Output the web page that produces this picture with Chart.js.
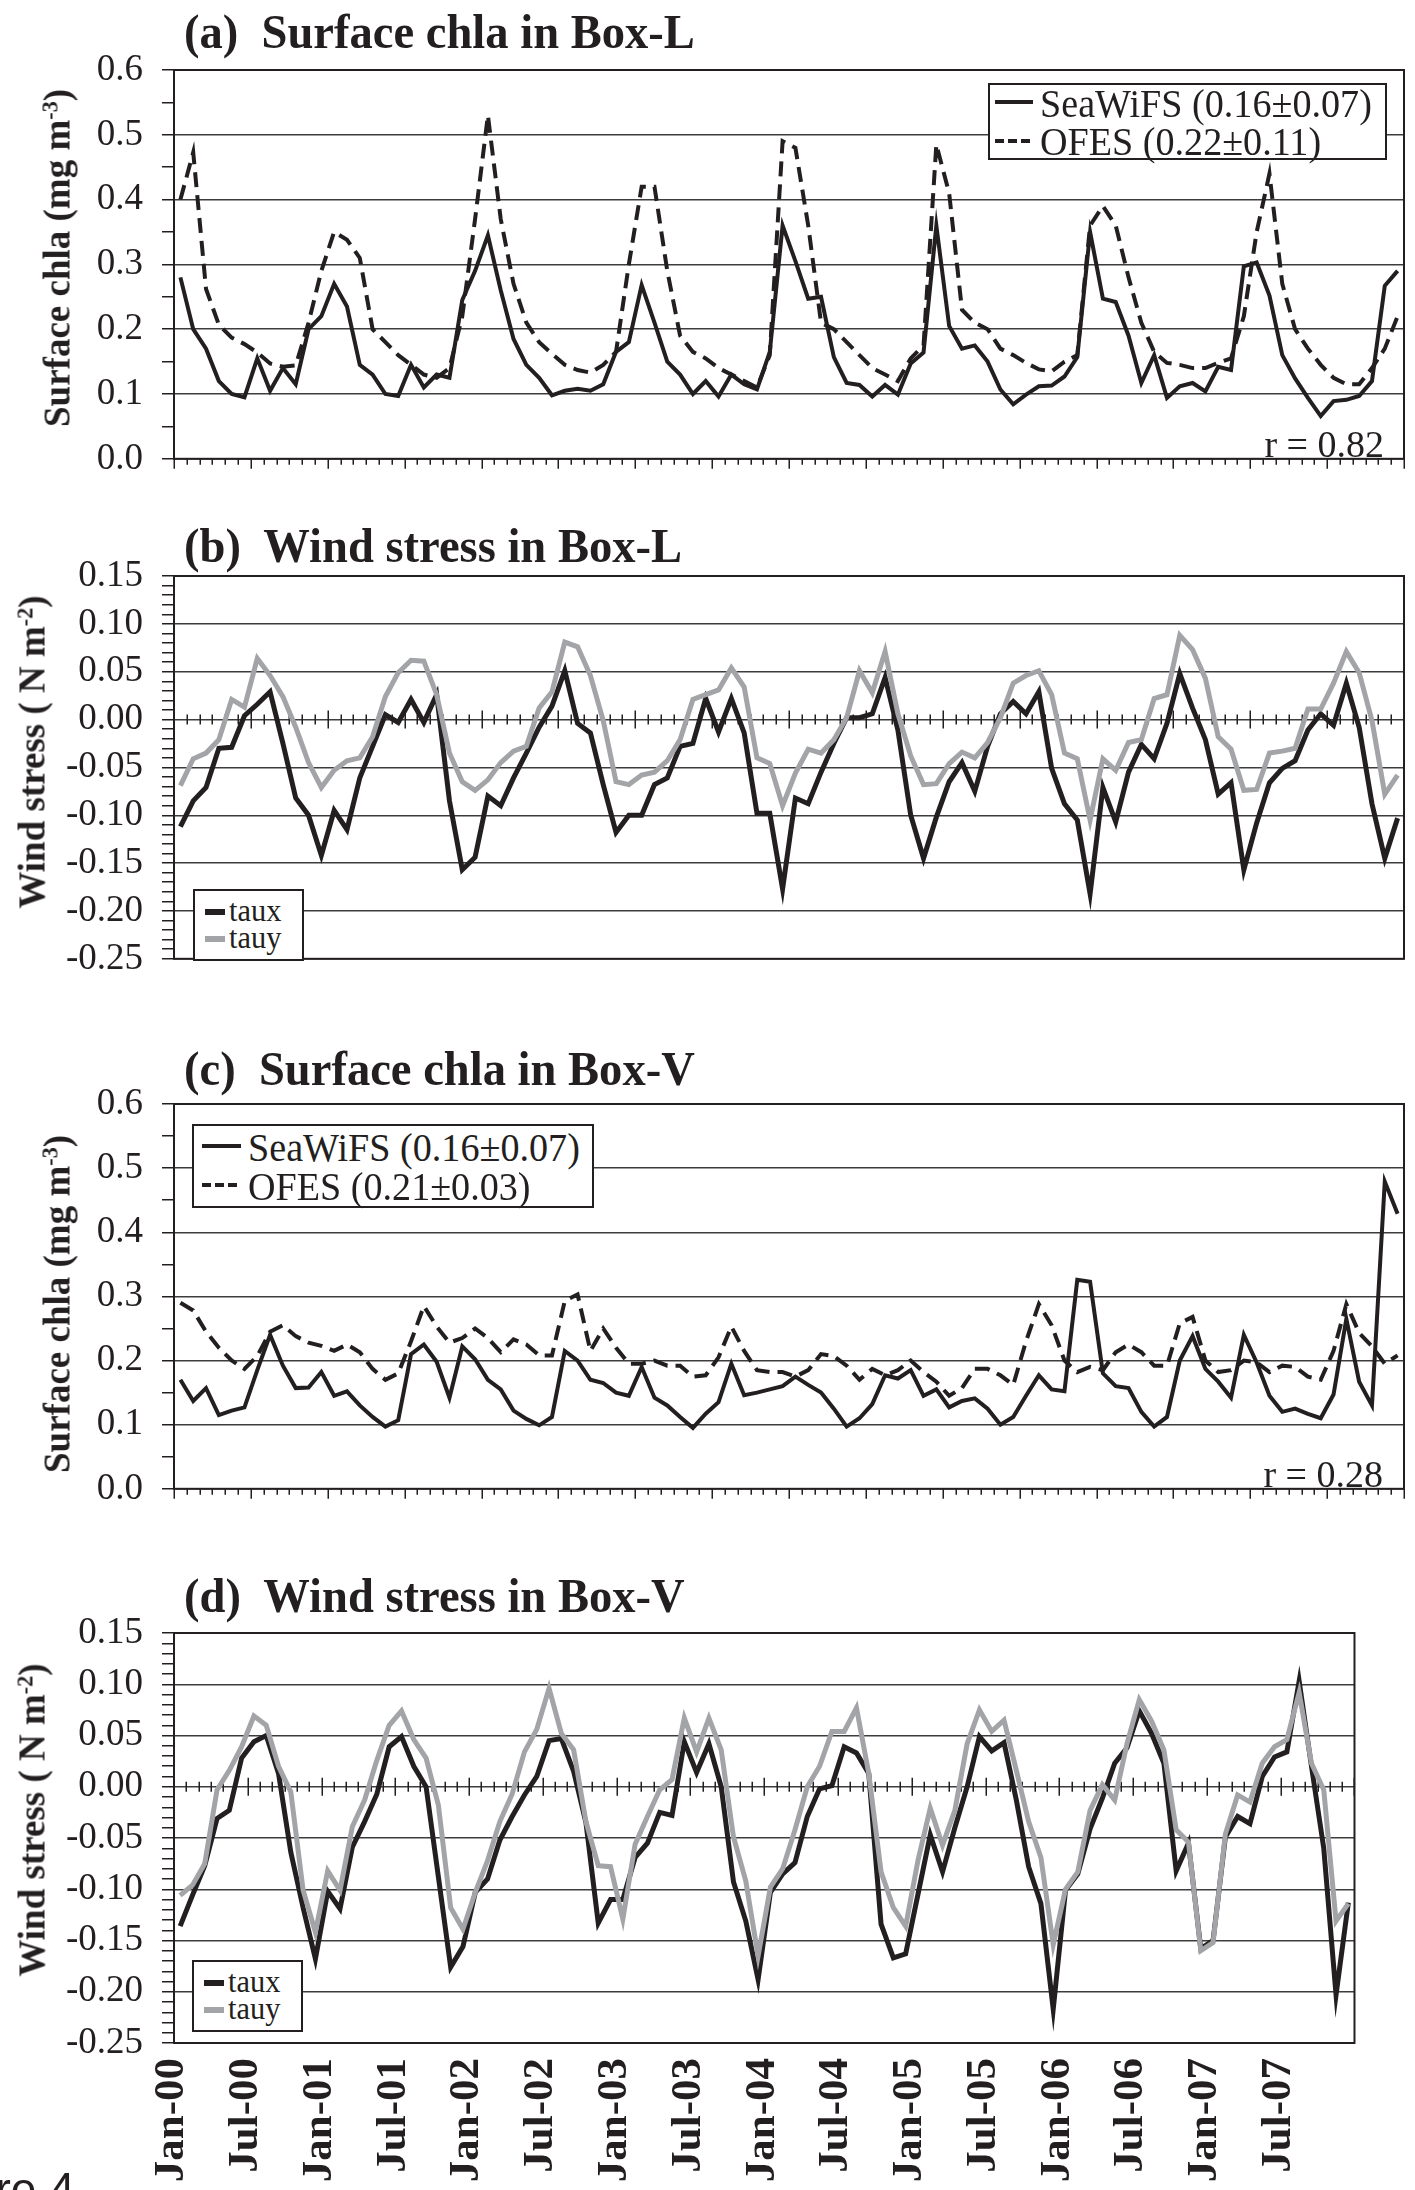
<!DOCTYPE html>
<html>
<head>
<meta charset="utf-8">
<title>Surface chla and wind stress, Box-L / Box-V</title>
<script src="https://cdn.jsdelivr.net/npm/chart.js@4.4.1/dist/chart.umd.min.js"></script>
<style>
  html, body { margin: 0; padding: 0; background: #fff; overflow: hidden; }
  #page { position: relative; width: 1415px; height: 2190px; overflow: hidden;
          font-family: "Liberation Serif", "Times New Roman", serif; color: #231f20; }
  canvas { position: absolute; left: 0; }
  .txt { position: absolute; white-space: pre; line-height: 1; transform-origin: 0 0; }
  .bold { font-weight: bold; }
  .ylab { position: absolute; font-weight: bold; font-size: 37px; line-height: 1; white-space: pre;
          transform: translate(-50%, -50%) rotate(-90deg); }
  .ylab sup { font-size: 0.6em; vertical-align: 0.55em; line-height: 0; }
  .legbox { position: absolute; box-sizing: border-box; border: 2px solid #231f20; background: #fff; }
</style>
</head>
<body>
<div id="page">
  <canvas id="chartA" width="1415" height="500" style="top:0px"></canvas>
  <canvas id="chartB" width="1415" height="500" style="top:500px"></canvas>
  <canvas id="chartC" width="1415" height="530" style="top:1000px"></canvas>
  <canvas id="chartD" width="1415" height="660" style="top:1540px"></canvas>
</div>
<script>
// 4단 패널: (a)(c) 표층 chla, (b)(d) 바람 응력 — 월별 2000-01 ~ 2007-12

const INK = "#231f20";
const GREY = "#a2a4a7";
const GRID = "#3d3d3d";
const SERIF = '"Liberation Serif", "Times New Roman", serif';

const MONTH_NAMES = ["Jan", "Feb", "Mar", "Apr", "May", "Jun", "Jul", "Aug", "Sep", "Oct", "Nov", "Dec"];
const YEARS = ["00", "01", "02", "03", "04", "05", "06", "07"];
const MONTHS = YEARS.flatMap((yy) => MONTH_NAMES.map((m) => `${m}-${yy}`));
const TICK_LABELS = ["Jan-00", "Jul-00", "Jan-01", "Jul-01", "Jan-02", "Jul-02", "Jan-03", "Jul-03",
  "Jan-04", "Jul-04", "Jan-05", "Jul-05", "Jan-06", "Jul-06", "Jan-07", "Jul-07"];

// (a) Box-L chla
const SEAWIFS_L = [0.28, 0.20, 0.17, 0.12, 0.10, 0.095, 0.155, 0.105, 0.14, 0.115,
  0.20, 0.22, 0.27, 0.235, 0.145, 0.13, 0.10, 0.097, 0.145, 0.11,
  0.13, 0.125, 0.245, 0.29, 0.345, 0.26, 0.185, 0.145, 0.125, 0.098,
  0.105, 0.108, 0.105, 0.115, 0.165, 0.18, 0.268, 0.21, 0.15, 0.13,
  0.10, 0.12, 0.096, 0.13, 0.115, 0.107, 0.165, 0.36, 0.305, 0.247,
  0.25, 0.157, 0.117, 0.114, 0.096, 0.114, 0.099, 0.147, 0.164, 0.36,
  0.205, 0.17, 0.175, 0.15, 0.107, 0.084, 0.099, 0.112, 0.113, 0.127,
  0.157, 0.35, 0.247, 0.242, 0.19, 0.117, 0.16, 0.094, 0.112, 0.117,
  0.104, 0.142, 0.137, 0.297, 0.303, 0.252, 0.16, 0.124, 0.094, 0.066,
  0.089, 0.091, 0.097, 0.12, 0.267, 0.29];
const OFES_L = [0.40, 0.473, 0.262, 0.207, 0.187, 0.177, 0.164, 0.147, 0.142, 0.144,
  0.21, 0.29, 0.35, 0.338, 0.31, 0.20, 0.18, 0.16, 0.145, 0.13,
  0.125, 0.14, 0.22, 0.37, 0.53, 0.37, 0.27, 0.21, 0.18, 0.162,
  0.145, 0.137, 0.133, 0.145, 0.165, 0.30, 0.42, 0.42, 0.29, 0.19,
  0.165, 0.155, 0.14, 0.13, 0.12, 0.11, 0.16, 0.49, 0.48, 0.36,
  0.21, 0.20, 0.18, 0.16, 0.14, 0.13, 0.12, 0.155, 0.175, 0.485,
  0.41, 0.23, 0.21, 0.20, 0.17, 0.16, 0.148, 0.138, 0.135, 0.15,
  0.16, 0.36, 0.39, 0.36, 0.28, 0.21, 0.165, 0.148, 0.145, 0.14,
  0.14, 0.148, 0.155, 0.22, 0.35, 0.44, 0.27, 0.20, 0.17, 0.145,
  0.125, 0.115, 0.115, 0.14, 0.17, 0.22];

// (b) Box-L wind stress
const TAUX_L = [-0.112, -0.085, -0.071, -0.030, -0.029, 0.004, 0.016, 0.029, -0.025, -0.082,
  -0.10, -0.142, -0.095, -0.115, -0.061, -0.028, 0.005, -0.003, 0.021, -0.003,
  0.026, -0.085, -0.157, -0.144, -0.08, -0.09, -0.061, -0.035, -0.008, 0.014,
  0.051, -0.004, -0.014, -0.068, -0.118, -0.10, -0.10, -0.068, -0.061, -0.028,
  -0.025, 0.022, -0.013, 0.022, -0.014, -0.098, -0.098, -0.177, -0.082, -0.088,
  -0.055, -0.025, 0.002, 0.002, 0.006, 0.044, -0.011, -0.10, -0.145, -0.102,
  -0.065, -0.045, -0.075, -0.028, 0.006, 0.019, 0.006, 0.029, -0.051, -0.088,
  -0.105, -0.182, -0.071, -0.107, -0.055, -0.026, -0.041, -0.004, 0.048, 0.012,
  -0.021, -0.078, -0.066, -0.157, -0.108, -0.066, -0.051, -0.043, -0.011, 0.006,
  -0.006, 0.038, -0.008, -0.088, -0.145, -0.103];
const TAUY_L = [-0.069, -0.041, -0.035, -0.021, 0.021, 0.013, 0.064, 0.046, 0.024, -0.008,
  -0.045, -0.071, -0.053, -0.043, -0.04, -0.018, 0.024, 0.049, 0.062, 0.061,
  0.026, -0.035, -0.065, -0.074, -0.063, -0.045, -0.033, -0.028, 0.012, 0.029,
  0.081, 0.076, 0.046, -0.001, -0.065, -0.068, -0.058, -0.055, -0.043, -0.021,
  0.021, 0.026, 0.031, 0.054, 0.034, -0.04, -0.046, -0.09, -0.056, -0.031,
  -0.035, -0.021, 0.002, 0.051, 0.028, 0.071, 0.006, -0.038, -0.068, -0.067,
  -0.046, -0.034, -0.04, -0.024, 0.002, 0.038, 0.046, 0.051, 0.026, -0.035,
  -0.041, -0.105, -0.041, -0.053, -0.024, -0.021, 0.022, 0.026, 0.088, 0.073,
  0.043, -0.018, -0.031, -0.074, -0.073, -0.035, -0.033, -0.03, 0.011, 0.011,
  0.038, 0.071, 0.049, -0.001, -0.078, -0.058];

// (c) Box-V chla
const SEAWIFS_V = [0.17, 0.137, 0.157, 0.115, 0.122, 0.127, 0.185, 0.24, 0.192, 0.157,
  0.158, 0.182, 0.145, 0.152, 0.13, 0.112, 0.097, 0.107, 0.21, 0.225,
  0.198, 0.142, 0.222, 0.202, 0.17, 0.155, 0.122, 0.109, 0.099, 0.112,
  0.215, 0.2, 0.17, 0.165, 0.15, 0.145, 0.19, 0.142, 0.13, 0.112,
  0.095, 0.117, 0.135, 0.195, 0.146, 0.15, 0.155, 0.16, 0.175, 0.162,
  0.15, 0.125, 0.097, 0.11, 0.132, 0.177, 0.172, 0.185, 0.145, 0.155,
  0.127, 0.137, 0.141, 0.125, 0.10, 0.112, 0.145, 0.177, 0.155, 0.152,
  0.326, 0.323, 0.18, 0.16, 0.157, 0.12, 0.097, 0.112, 0.20, 0.238,
  0.187, 0.167, 0.142, 0.24, 0.197, 0.145, 0.12, 0.125, 0.117, 0.11,
  0.147, 0.265, 0.167, 0.13, 0.479, 0.429];
const OFES_V = [0.29, 0.278, 0.245, 0.22, 0.2, 0.187, 0.207, 0.245, 0.255, 0.238,
  0.228, 0.223, 0.215, 0.225, 0.213, 0.187, 0.17, 0.18, 0.23, 0.285,
  0.253, 0.228, 0.235, 0.25, 0.235, 0.213, 0.233, 0.225, 0.208, 0.208,
  0.293, 0.303, 0.215, 0.25, 0.22, 0.195, 0.195, 0.2, 0.192, 0.192,
  0.175, 0.177, 0.205, 0.253, 0.215, 0.185, 0.182, 0.182, 0.175, 0.185,
  0.21, 0.207, 0.192, 0.17, 0.187, 0.177, 0.185, 0.2, 0.182, 0.167,
  0.145, 0.157, 0.187, 0.187, 0.177, 0.162, 0.23, 0.288, 0.255, 0.2,
  0.182, 0.19, 0.185, 0.213, 0.225, 0.213, 0.192, 0.192, 0.258, 0.268,
  0.2, 0.182, 0.185, 0.2, 0.197, 0.182, 0.192, 0.19, 0.175, 0.17,
  0.215, 0.288, 0.243, 0.222, 0.195, 0.208];

// (d) Box-V wind stress
const TAUX_V = [-0.136, -0.106, -0.077, -0.031, -0.023, 0.028, 0.044, 0.05, 0.013, -0.064,
  -0.118, -0.168, -0.102, -0.119, -0.059, -0.034, -0.007, 0.039, 0.049, 0.02,
  0.0, -0.088, -0.176, -0.156, -0.103, -0.09, -0.052, -0.029, -0.008, 0.01,
  0.045, 0.047, 0.015, -0.035, -0.133, -0.11, -0.11, -0.069, -0.055, -0.025,
  -0.028, 0.044, 0.014, 0.042, 0.0, -0.093, -0.131, -0.188, -0.103, -0.085,
  -0.074, -0.029, -0.002, 0.001, 0.039, 0.033, 0.013, -0.134, -0.167, -0.163,
  -0.105, -0.047, -0.083, -0.04, 0.0, 0.049, 0.035, 0.043, -0.013, -0.078,
  -0.114, -0.217, -0.101, -0.085, -0.041, -0.011, 0.023, 0.038, 0.074, 0.052,
  0.023, -0.082, -0.055, -0.158, -0.15, -0.049, -0.029, -0.036, 0.01, 0.029,
  0.034, 0.103, 0.02, -0.06, -0.203, -0.113];
const TAUY_V = [-0.106, -0.096, -0.075, -0.003, 0.016, 0.039, 0.069, 0.06, 0.02, -0.005,
  -0.101, -0.142, -0.082, -0.101, -0.039, -0.013, 0.026, 0.06, 0.074, 0.046,
  0.028, -0.018, -0.118, -0.139, -0.103, -0.072, -0.034, -0.007, 0.034, 0.056,
  0.096, 0.052, 0.036, -0.034, -0.077, -0.078, -0.129, -0.056, -0.029, -0.003,
  0.007, 0.067, 0.034, 0.067, 0.036, -0.049, -0.092, -0.165, -0.098, -0.08,
  -0.042, 0.0, 0.02, 0.054, 0.054, 0.077, 0.013, -0.083, -0.118, -0.136,
  -0.072, -0.021, -0.057, -0.023, 0.042, 0.075, 0.054, 0.065, 0.016, -0.034,
  -0.069, -0.154, -0.1, -0.083, -0.023, 0.002, -0.013, 0.042, 0.085, 0.064,
  0.036, -0.042, -0.054, -0.16, -0.152, -0.046, -0.008, -0.015, 0.023, 0.039,
  0.046, 0.092, 0.023, -0.003, -0.131, -0.114];

const page = document.getElementById("page");

// 플롯 영역 좌측/우측 (px)
const AXIS_W = 174;
const PAD_RIGHT = 11;

// 월 경계 눈금 + 외곽 프레임
const framePlugin = {
  id: "frame",
  beforeDatasetsDraw(chart, args, opts) {
    const { ctx, chartArea: a } = chart;
    const x = chart.scales.x;
    const y = chart.scales.y;
    const step = x.getPixelForValue(1) - x.getPixelForValue(0);
    const start = x.getPixelForValue(0) - step / 2;
    ctx.save();
    ctx.strokeStyle = INK;
    ctx.lineWidth = 1.5;
    ctx.beginPath();
    for (let k = 0; k <= MONTHS.length; k++) {
      const px = Math.round(start + k * step) + 0.25;
      const big = k % 6 === 0;
      if (opts.crossZero) {
        const y0 = y.getPixelForValue(0);
        const h = big ? 9 : 5;
        ctx.moveTo(px, y0 - h);
        ctx.lineTo(px, y0 + h);
      } else {
        const h = big ? 10 : 6;
        ctx.moveTo(px, a.bottom);
        ctx.lineTo(px, a.bottom + h);
      }
    }
    ctx.stroke();
    ctx.restore();
  },
  afterDatasetsDraw(chart) {
    const { ctx, chartArea: a } = chart;
    ctx.save();
    ctx.strokeStyle = INK;
    ctx.lineWidth = 2;
    ctx.strokeRect(a.left, a.top, a.right - a.left, a.bottom - a.top);
    ctx.restore();
  },
};

function lineSet(label, data, color, width, dash) {
  return {
    label,
    data,
    borderColor: color,
    backgroundColor: "transparent",
    borderWidth: width,
    borderDash: dash || [],
    pointRadius: 0,
    tension: 0,
    fill: false,
  };
}

function yScale(min, max, step, majorEvery, digits) {
  return {
    min,
    max,
    afterFit: (s) => { s.width = AXIS_W; },
    ticks: {
      stepSize: step,
      autoSkip: false,
      padding: 19,
      color: INK,
      font: { family: SERIF, size: 37 },
      callback: (v, i) => (i % majorEvery === 0 ? Number(v).toFixed(digits) : ""),
    },
    grid: {
      drawTicks: true,
      tickLength: 12,
      tickColor: INK,
      tickWidth: 1.5,
      lineWidth: 1.5,
      color: (c) => (c.index % majorEvery === 0 ? GRID : "rgba(0,0,0,0)"),
    },
    border: { display: true, color: INK, width: 2 },
  };
}

function xScale(withLabels, height) {
  if (!withLabels) return { type: "category", offset: true, display: false };
  return {
    type: "category",
    offset: true,
    afterFit: (s) => { s.height = height; },
    grid: { display: false, drawTicks: false },
    border: { display: false },
    ticks: {
      autoSkip: false,
      minRotation: 90,
      maxRotation: 90,
      padding: 15,
      labelOffset: -8,
      color: INK,
      font: { family: SERIF, size: 43, weight: "bold" },
      callback: (v, i) => (i % 6 === 0 ? TICK_LABELS[i / 6] : ""),
    },
  };
}

function makePanel(id, datasets, y, pad, crossZero, xLabels, xHeight) {
  return new Chart(document.getElementById(id), {
    type: "line",
    data: { labels: MONTHS, datasets },
    options: {
      responsive: false,
      animation: false,
      devicePixelRatio: 1,
      layout: { padding: { top: pad.top, bottom: pad.bottom, left: 0, right: PAD_RIGHT } },
      plugins: { legend: { display: false }, tooltip: { enabled: false }, frame: { crossZero } },
      scales: { x: xScale(xLabels, xHeight), y },
    },
    plugins: [framePlugin],
  });
}

// 텍스트 배치 (baseline 기준)
function addText(html, x, baseline, size, opts = {}) {
  const el = document.createElement("div");
  el.className = "txt" + (opts.bold ? " bold" : "");
  el.style.fontSize = size + "px";
  if (opts.family) el.style.fontFamily = opts.family;
  el.style.top = (baseline - 0.8375 * size) + "px";
  if (opts.right) el.style.right = (1415 - x) + "px";
  else el.style.left = x + "px";
  if (opts.sx) el.style.transform = `scaleX(${opts.sx})`;
  el.innerHTML = html;
  page.appendChild(el);
}

function addYLabel(html, cx, cy) {
  const el = document.createElement("div");
  el.className = "ylab";
  el.style.left = cx + "px";
  el.style.top = cy + "px";
  el.innerHTML = html;
  page.appendChild(el);
}

function addBox(left, top, w, h) {
  const el = document.createElement("div");
  el.className = "legbox";
  Object.assign(el.style, { left: left + "px", top: top + "px", width: w + "px", height: h + "px" });
  page.appendChild(el);
}

function addSample(x, y, len, width, color, dash, cap) {
  const h = width + 4;
  page.insertAdjacentHTML("beforeend",
    `<svg width="${len + 2}" height="${h}" style="position:absolute;left:${x - 1}px;top:${y - h / 2}px">` +
    `<line x1="1" y1="${h / 2}" x2="${len + 1}" y2="${h / 2}" stroke="${color}" stroke-width="${width}"` +
    (dash ? ` stroke-dasharray="${dash}"` : "") + ` stroke-linecap="${cap || "butt"}"/></svg>`);
}

function renderCharts() {
  makePanel("chartA",
    [lineSet("SeaWiFS", SEAWIFS_L, INK, 4), lineSet("OFES", OFES_L, INK, 4, [15, 8])],
    yScale(0, 0.6, 0.05, 2, 1), { top: 70, bottom: 33 }, false, false);
  makePanel("chartB",
    [lineSet("tauy", TAUY_L, GREY, 5), lineSet("taux", TAUX_L, INK, 5)],
    yScale(-0.25, 0.15, 0.01, 5, 2), { top: 76, bottom: 27 }, true, false);
  makePanel("chartC",
    [lineSet("SeaWiFS", SEAWIFS_V, INK, 4), lineSet("OFES", OFES_V, INK, 4, [15, 8])],
    yScale(0, 0.6, 0.05, 2, 1), { top: 104, bottom: 27 }, false, false);
  makePanel("chartD",
    [lineSet("tauy", TAUY_V, GREY, 5), lineSet("taux", TAUX_V, INK, 5)],
    yScale(-0.25, 0.15, 0.01, 5, 2), { top: 93, bottom: 0 }, true, true, 660 - 93 - 410);
}

function renderText() {
  addText("(a)  Surface chla in Box-L", 184, 48, 48, { bold: true, sx: 0.97 });
  addText("(b)  Wind stress in Box-L", 184, 562, 48, { bold: true, sx: 0.97 });
  addText("(c)  Surface chla in Box-V", 184, 1085, 48, { bold: true, sx: 0.97 });
  addText("(d)  Wind stress in Box-V", 184, 1612, 48, { bold: true, sx: 0.97 });

  addYLabel("Surface chla (mg m<sup>-3</sup>)", 57, 258);
  addYLabel("Wind stress ( N m<sup>-2</sup>)", 32, 752);
  addYLabel("Surface chla (mg m<sup>-3</sup>)", 57, 1304);
  addYLabel("Wind stress ( N m<sup>-2</sup>)", 32, 1820);

  // (a) legend
  addBox(988, 83, 399, 77);
  addSample(995, 102, 38, 4, INK);
  addText("SeaWiFS (0.16±0.07)", 1040, 117, 41, { sx: 0.93 });
  addSample(995, 141, 38, 4, INK, "9,4");
  addText("OFES (0.22±0.11)", 1040, 155, 41, { sx: 0.93 });
  addText("r = 0.82", 1384, 457, 38, { right: true });

  // (b) legend
  addBox(193, 889, 111, 72);
  addSample(206, 912, 18, 6, INK, null, "round");
  addText("taux", 229, 921, 32, { sx: 0.95 });
  addSample(206, 939, 18, 6, GREY, null, "round");
  addText("tauy", 229, 948, 32, { sx: 0.95 });

  // (c) legend
  addBox(192, 1124, 402, 84);
  addSample(202, 1146, 39, 4, INK);
  addText("SeaWiFS (0.16±0.07)", 248, 1161, 41, { sx: 0.93 });
  addSample(202, 1185, 39, 4, INK, "9,4");
  addText("OFES (0.21±0.03)", 248, 1200, 41, { sx: 0.93 });
  addText("r = 0.28", 1383, 1487, 38, { right: true });

  // (d) legend
  addBox(192, 1960, 111, 72);
  addSample(205, 1983, 18, 6, INK, null, "round");
  addText("taux", 228, 1992, 32, { sx: 0.95 });
  addSample(205, 2010, 18, 6, GREY, null, "round");
  addText("tauy", 228, 2019, 32, { sx: 0.95 });

  addText("Figure 4", -94, 2205, 46, { family: '"Liberation Sans", Arial, sans-serif' });
}

renderCharts();
renderText();
</script>
</body>
</html>
